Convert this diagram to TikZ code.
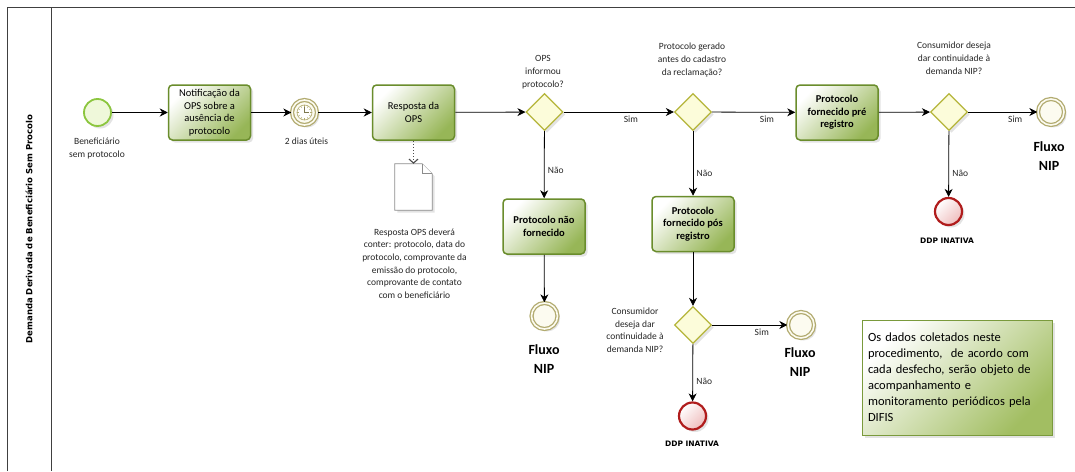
\documentclass[tikz,border=0pt]{standalone}
\usepackage{fontspec}
\setmainfont{Carlito}
\newfontfamily\lanefont{DejaVu Sans}
\usepackage{xcolor}
\usetikzlibrary{shapes.geometric, arrows.meta, shadows}

\definecolor{taskline}{HTML}{6A8D2C}
\definecolor{taskdark}{HTML}{97B657}
\definecolor{taskmid}{HTML}{DCE7C4}
\definecolor{startline}{HTML}{8CC63F}
\definecolor{startfill}{HTML}{EFF8DA}
\definecolor{gateline}{HTML}{B5B53A}
\definecolor{gatefill}{HTML}{FCFCDA}
\definecolor{ringline}{HTML}{B2AB70}
\definecolor{ringfill}{HTML}{FCFBF0}
\definecolor{stopline}{HTML}{B01C1C}
\definecolor{stopfill}{HTML}{EFBDBD}
\definecolor{noteline}{HTML}{7A9A3C}
\definecolor{notedark}{HTML}{A2BE62}

\begin{document}
\begin{tikzpicture}[
x=1pt, y=-1pt,
soft shadow/.style = {drop shadow={shadow xshift=2.5pt, shadow yshift=-2.5pt, opacity=.18, fill=black!60}},
task/.style = {draw=taskline, line width=1.5pt, rounded corners=4pt,
  left color=white, middle color=taskmid, right color=taskdark, shading angle=45,
  minimum width=82pt, minimum height=55pt, align=center,
  font=\fontsize{10.5}{12.5}\selectfont, soft shadow},
bold task/.style = {task, font=\bfseries\fontsize{10.5}{12.5}\selectfont},
gate/.style = {diamond, aspect=1, draw=gateline, line width=1.3pt, fill=gatefill,
  minimum size=37pt, inner sep=0pt, soft shadow},
start event/.style = {circle, draw=startline, line width=1.8pt, fill=startfill,
  minimum size=27pt, inner sep=0pt, soft shadow},
ring event/.style = {circle, draw=ringline, double=ringfill, double distance=1.6pt,
  line width=1.3pt, fill=ringfill, minimum size=26pt, inner sep=0pt, soft shadow},
stop event/.style = {circle, draw=stopline, line width=2.2pt,
  left color=white, right color=stopfill, shading angle=45,
  minimum size=27pt, inner sep=0pt, soft shadow},
small label/.style = {align=center, text=black!85, font=\fontsize{9.5}{13}\selectfont},
flow label/.style = {text=black!85, font=\fontsize{9.5}{11}\selectfont},
end label/.style = {align=center, font=\bfseries\fontsize{14}{19}\selectfont},
stop label/.style = {font=\lanefont\bfseries\fontsize{7.5}{9}\selectfont},
lane label/.style = {font=\lanefont\bfseries\fontsize{8.5}{10}\selectfont},
flow/.style = {-{Stealth[length=8pt, width=8pt, inset=2.5pt]}, black, line width=0.8pt},
assoc/.style = {-{Straight Barb[length=4pt, width=9pt]}, black!70, dotted, line width=1.1pt},
docshape/.style = {draw=black!45, fill=white, line width=0.8pt},
note/.style = {rectangle, draw=noteline, line width=1pt, minimum width=190pt, minimum height=115pt,
  text width=178pt, inner sep=6pt, align=left, left color=white, right color=notedark,
  shading angle=45, font=\fontsize{12.5}{16}\selectfont, soft shadow},
lane/.style = {draw=black!75, line width=0.9pt}
]

\useasboundingbox (0,0) rectangle (1075,471);
\fill[white] (0,0) rectangle (1075,471);

% pool / lane
\draw[lane] (7,471) -- (7,7) -- (1075,7);
\draw[lane] (51,7) -- (51,471);
\node (lanelbl) [lane label, rotate=90] at (29,229) {Demanda Derivada de Beneficiário Sem Procolo};

% main row
\node (start) [start event] at (97.5,112.5) {};
\node (startlbl) [small label] at (97,148) {Beneficiário\\sem protocolo};

\node (notif) [task] at (209.5,112.5) {Notificação da\\OPS sobre a\\ausência de\\protocolo};

\node (timer) [ring event, minimum size=25pt] at (304.5,112.5) {};
\draw[ringline, fill=white, line width=0.6pt] (timer.center) circle (7.5);
\foreach \a in {0,30,...,330}
  \draw[ringline, line width=0.4pt] (timer.center) ++(\a:5.3) -- ++(\a:1.8);
\draw[ringline!70!black, line width=0.6pt] (timer.center) -- ++(0,-5.5);
\draw[ringline!70!black, line width=0.6pt] (timer.center) -- ++(4.5,0);
\node (timerlbl) [small label] at (306.5,141.5) {2 dias úteis};

\node (resp) [task] at (413.5,112.5) {Resposta da\\OPS};

\node (gw1) [gate] at (544.5,112) {};
\node (gw1lbl) [small label] at (543,72) {OPS\\informou\\protocolo?};

\node (gw2) [gate] at (693,112) {};
\node (gw2lbl) [small label] at (692,60) {Protocolo gerado\\antes do cadastro\\da reclamação?};

\node (pre) [bold task] at (837,112.5) {Protocolo\\fornecido pré\\registro};

\node (gw3) [gate] at (949,112) {};
\node (gw3lbl) [small label] at (954,58) {Consumidor deseja\\dar continuidade à\\demanda NIP?};

\node (fim1) [ring event] at (1051,112) {};
\node (fim1lbl) [end label] at (1049,156) {Fluxo\\NIP};

% data object
\node (doc) [minimum width=37pt, minimum height=46pt, inner sep=0pt] at (413.5,187) {};
\draw[docshape, soft shadow] (doc.north west) -- ([xshift=-10pt]doc.north east) -- ([yshift=-10pt]doc.north east)
  -- (doc.south east) -- (doc.south west) -- cycle;
\draw[docshape] ([xshift=-10pt]doc.north east) -- ([xshift=-10pt, yshift=-10pt]doc.north east) -- ([yshift=-10pt]doc.north east);
\node (doclbl) [small label, font=\fontsize{9.5}{12.7}\selectfont] at (414.5,263.5)
  {Resposta OPS deverá\\conter: protocolo, data do\\protocolo, comprovante da\\emissão do protocolo,\\comprovante de contato\\com o beneficiário};

% lower branches
\node (naoforn) [bold task] at (544,226.5) {Protocolo não\\fornecido};
\node (fim2) [ring event] at (544.5,316) {};
\node (fim2lbl) [end label] at (544,359.5) {Fluxo\\NIP};

\node (pos) [bold task] at (693,224) {Protocolo\\fornecido pós\\registro};
\node (gw4) [gate] at (693,325) {};
\node (gw4lbl) [small label, font=\fontsize{9.5}{12.5}\selectfont] at (635,330) {Consumidor\\deseja dar\\continuidade à\\demanda NIP?};
\node (fim3) [ring event] at (801,325) {};
\node (fim3lbl) [end label] at (800,362.5) {Fluxo\\NIP};
\node (stop2) [stop event] at (692.5,416) {};
\node (stop2lbl) [stop label] at (692,444) {DDP INATIVA};

\node (stop1) [stop event] at (948.5,211.5) {};
\node (stop1lbl) [stop label] at (947,241) {DDP INATIVA};

\node (note) [note] at (957,377.5) {Os dados coletados neste\\procedimento,~ de acordo com\\cada desfecho, serão objeto de\\acompanhamento e\\monitoramento periódicos pela\\DIFIS};

% connectors
\draw[flow] (start) -- (notif);
\draw[flow] (notif) -- (timer);
\draw[flow] (timer) -- (resp);
\draw[flow] (resp) -- (gw1);
\draw[flow] (gw1) -- node[flow label, below, pos=0.61] (sim1) {Sim} (gw2);
\draw[flow] (gw2) -- node[flow label, below, pos=0.66] (sim2) {Sim} (pre);
\draw[flow] (pre) -- (gw3);
\draw[flow] (gw3) -- node[flow label, below, pos=0.68] (sim3) {Sim} (fim1);

\draw[flow] (gw1) -- node[flow label, right, pos=0.59] (nao1) {Não} (naoforn);
\draw[flow] (naoforn) -- (fim2);
\draw[flow] (gw2) -- node[flow label, right, pos=0.66] (nao2) {Não} (pos);
\draw[flow] (pos) -- (gw4);
\draw[flow] (gw4) -- node[flow label, below, pos=0.66] (sim4) {Sim} (fim3);
\draw[flow] (gw4) -- node[flow label, right, pos=0.65] (nao4) {Não} (stop2);
\draw[flow] (gw3) -- node[flow label, right, pos=0.64] (nao3) {Não} (stop1);

\draw[assoc] (resp) -- (doc);
\end{tikzpicture}
\end{document}
